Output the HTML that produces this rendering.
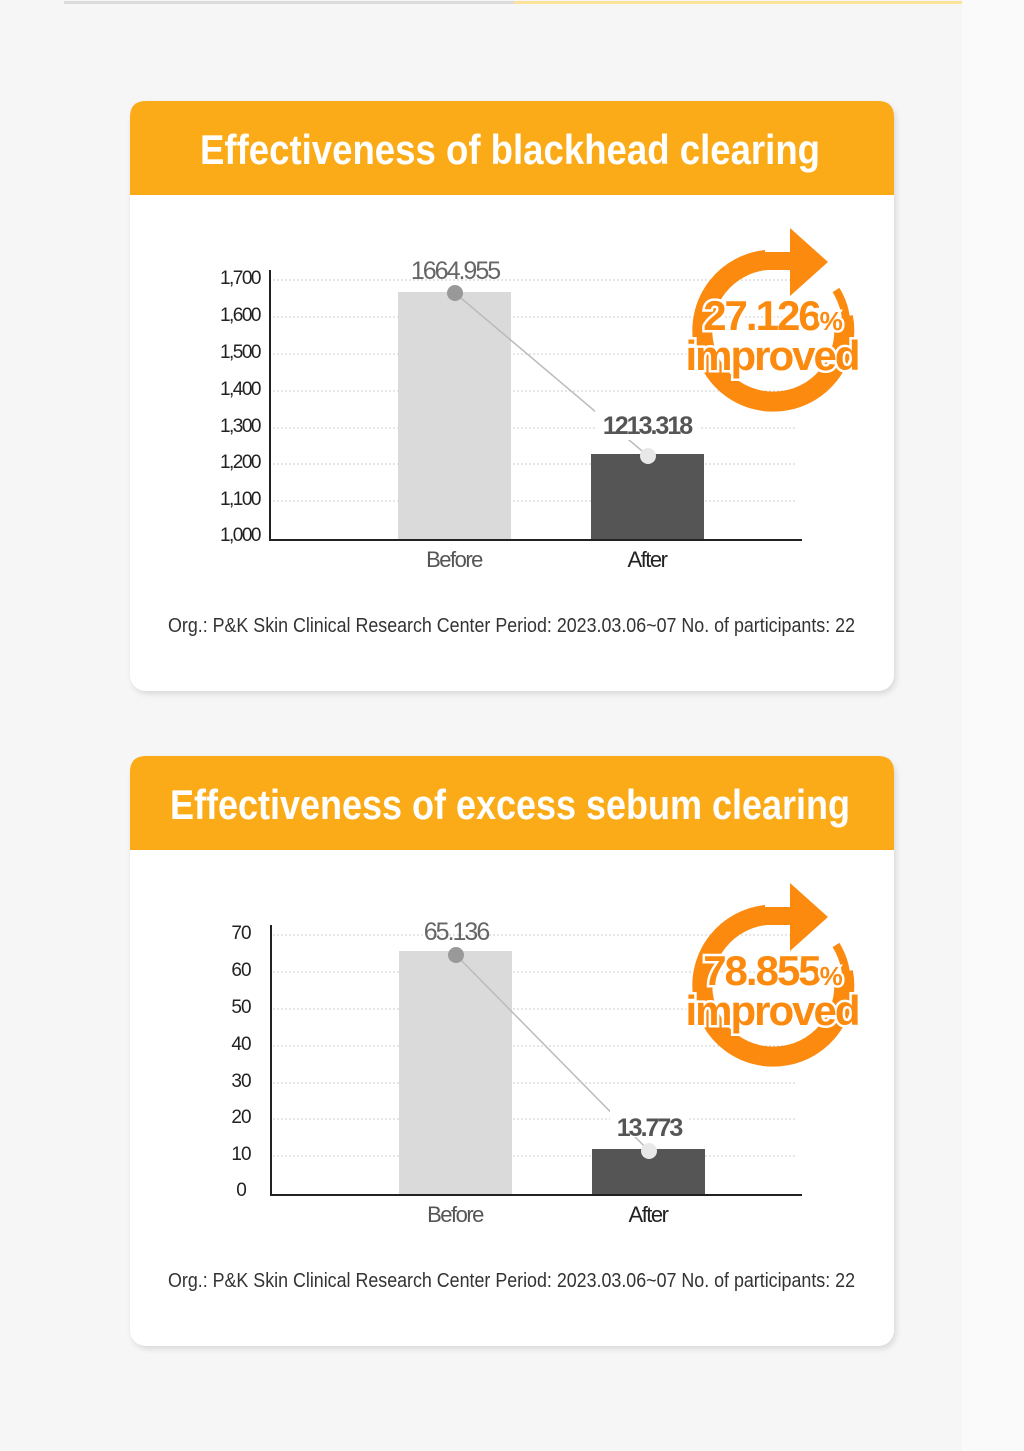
<!DOCTYPE html>
<html><head><meta charset="utf-8"><style>
html,body{margin:0;padding:0;background:#f6f6f6;}
svg{display:block;font-family:"Liberation Sans",sans-serif;}
</style></head><body>
<svg width="1024" height="1451" viewBox="0 0 1024 1451">
<defs>
<filter id="sh" x="-5%" y="-5%" width="110%" height="112%"><feDropShadow dx="2" dy="3" stdDeviation="3" flood-color="#000" flood-opacity="0.12"/></filter>
</defs>
<rect width="1024" height="1451" fill="#f6f6f6"/>
<rect x="962" y="0" width="62" height="1451" fill="#fafafa"/>
<rect x="64" y="1" width="450" height="3" fill="#dcdcdc"/>
<rect x="514" y="1" width="448" height="3" fill="#fde29a"/>

<!-- CARD 1 -->
<g>
<rect x="130" y="101" width="764" height="590" rx="16" fill="#fff" filter="url(#sh)"/>
<path d="M130 195 V117 Q130 101 146 101 H878 Q894 101 894 117 V195 Z" fill="#fbab18"/>
<text x="510" y="164" text-anchor="middle" font-size="42" font-weight="bold" fill="#fff" textLength="620" lengthAdjust="spacingAndGlyphs">Effectiveness of blackhead clearing</text>
<g stroke="#ccc" stroke-width="1" stroke-dasharray="2,2">
<line x1="273" y1="280" x2="795" y2="280"/><line x1="273" y1="317" x2="795" y2="317"/><line x1="273" y1="354" x2="795" y2="354"/><line x1="273" y1="391" x2="795" y2="391"/><line x1="273" y1="428" x2="795" y2="428"/><line x1="273" y1="464" x2="795" y2="464"/><line x1="273" y1="501" x2="795" y2="501"/>
</g>
<g font-size="19" fill="#222" text-anchor="end" letter-spacing="-1.5">
<text x="260" y="284">1,700</text><text x="260" y="321">1,600</text><text x="260" y="358">1,500</text><text x="260" y="395">1,400</text><text x="260" y="432">1,300</text><text x="260" y="468">1,200</text><text x="260" y="505">1,100</text><text x="260" y="541">1,000</text>
</g>
<rect x="398" y="292" width="113" height="247" fill="#dadada"/>
<rect x="591" y="454" width="113" height="85" fill="#555"/>
<line x1="270" y1="270" x2="270" y2="540" stroke="#222" stroke-width="2"/>
<line x1="269" y1="540" x2="802" y2="540" stroke="#222" stroke-width="2"/>
<line x1="455" y1="293" x2="648" y2="456" stroke="#bbb" stroke-width="1.5"/>
<circle cx="455" cy="293" r="8" fill="#999"/>
<circle cx="648" cy="456" r="8" fill="#e8e8e8"/>
<text x="455" y="279" text-anchor="middle" font-size="25" fill="#666" letter-spacing="-2">1664.955</text>
<rect x="595" y="410" width="106" height="30" fill="#fff"/>
<text x="647" y="434" text-anchor="middle" font-size="25" font-weight="bold" fill="#555" letter-spacing="-2">1213.318</text>
<text x="454" y="567" text-anchor="middle" font-size="22" fill="#555" letter-spacing="-1.5">Before</text>
<text x="647" y="567" text-anchor="middle" font-size="22" fill="#222" letter-spacing="-1.5">After</text>
<text x="168" y="632" font-size="20" fill="#333" textLength="687" lengthAdjust="spacingAndGlyphs">Org.: P&amp;K Skin Clinical Research Center  Period: 2023.03.06~07  No. of participants: 22</text>
<g>
<path d="M843 317 A71 71 0 1 1 766 260" fill="none" stroke="#fb8a0f" stroke-width="20"/>
<path d="M762 252 H790 V228 L828 262 L790 296 V270 H762 Z" fill="#fb8a0f"/>
<path d="M836 290 A71 71 0 0 1 846 335" fill="none" stroke="#fb8a0f" stroke-width="8"/>
<text x="772" y="330" text-anchor="middle" font-size="42" font-weight="bold" fill="#fb8a0f" stroke="#fff" stroke-width="5" paint-order="stroke" letter-spacing="-2">27.126<tspan font-size="26">%</tspan></text>
<text x="772" y="370" text-anchor="middle" font-size="42" font-weight="bold" fill="#fb8a0f" stroke="#fff" stroke-width="5" paint-order="stroke" letter-spacing="-2">improved</text>
</g>
</g>

<!-- CARD 2 -->
<g transform="translate(0,655)">
<rect x="130" y="101" width="764" height="590" rx="16" fill="#fff" filter="url(#sh)"/>
<path d="M130 195 V117 Q130 101 146 101 H878 Q894 101 894 117 V195 Z" fill="#fbab18"/>
<text x="510" y="164" text-anchor="middle" font-size="42" font-weight="bold" fill="#fff" textLength="680" lengthAdjust="spacingAndGlyphs">Effectiveness of excess sebum clearing</text>
<g stroke="#ccc" stroke-width="1" stroke-dasharray="2,2">
<line x1="273" y1="280" x2="795" y2="280"/><line x1="273" y1="317" x2="795" y2="317"/><line x1="273" y1="354" x2="795" y2="354"/><line x1="273" y1="391" x2="795" y2="391"/><line x1="273" y1="428" x2="795" y2="428"/><line x1="273" y1="464" x2="795" y2="464"/><line x1="273" y1="501" x2="795" y2="501"/>
</g>
<g font-size="19" fill="#222" text-anchor="middle" letter-spacing="-1">
<text x="241" y="284">70</text><text x="241" y="321">60</text><text x="241" y="358">50</text><text x="241" y="395">40</text><text x="241" y="432">30</text><text x="241" y="468">20</text><text x="241" y="505">10</text><text x="241" y="541">0</text>
</g>
<rect x="399" y="296" width="113" height="243" fill="#dadada"/>
<rect x="592" y="494" width="113" height="45" fill="#555"/>
<line x1="271" y1="270" x2="271" y2="540" stroke="#222" stroke-width="2"/>
<line x1="270" y1="540" x2="802" y2="540" stroke="#222" stroke-width="2"/>
<line x1="456" y1="300" x2="649" y2="496" stroke="#bbb" stroke-width="1.5"/>
<circle cx="456" cy="300" r="8" fill="#999"/>
<circle cx="649" cy="496" r="8" fill="#e8e8e8"/>
<text x="456" y="285" text-anchor="middle" font-size="25" fill="#666" letter-spacing="-2">65.136</text>
<rect x="610" y="452" width="78" height="30" fill="#fff"/>
<text x="649" y="481" text-anchor="middle" font-size="25" font-weight="bold" fill="#555" letter-spacing="-2">13.773</text>
<text x="455" y="567" text-anchor="middle" font-size="22" fill="#555" letter-spacing="-1.5">Before</text>
<text x="648" y="567" text-anchor="middle" font-size="22" fill="#222" letter-spacing="-1.5">After</text>
<text x="168" y="632" font-size="20" fill="#333" textLength="687" lengthAdjust="spacingAndGlyphs">Org.: P&amp;K Skin Clinical Research Center  Period: 2023.03.06~07  No. of participants: 22</text>
<g>
<path d="M843 317 A71 71 0 1 1 766 260" fill="none" stroke="#fb8a0f" stroke-width="20"/>
<path d="M762 252 H790 V228 L828 262 L790 296 V270 H762 Z" fill="#fb8a0f"/>
<path d="M836 290 A71 71 0 0 1 846 335" fill="none" stroke="#fb8a0f" stroke-width="8"/>
<text x="772" y="330" text-anchor="middle" font-size="42" font-weight="bold" fill="#fb8a0f" stroke="#fff" stroke-width="5" paint-order="stroke" letter-spacing="-2">78.855<tspan font-size="26">%</tspan></text>
<text x="772" y="370" text-anchor="middle" font-size="42" font-weight="bold" fill="#fb8a0f" stroke="#fff" stroke-width="5" paint-order="stroke" letter-spacing="-2">improved</text>
</g>
</g>
</svg>
</body></html>
